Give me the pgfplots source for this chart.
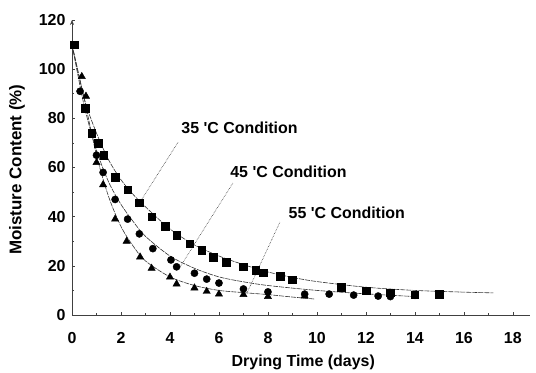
\documentclass[border=0pt]{standalone}
\usepackage{pgfplots}
\pgfplotsset{compat=1.18}
\usepackage{fontspec}
\setmainfont{Liberation Sans}
\usetikzlibrary{arrows.meta}

\begin{document}
\begin{tikzpicture}
\useasboundingbox (-72bp,-58bp) rectangle (464bp,315bp);
\begin{axis}[
  at={(0,0)}, anchor=south west,
  scale only axis, width=458bp, height=295bp,
  xmin=0, xmax=18.7, ymin=0, ymax=120,
  clip=false,
  axis x line*=bottom, axis y line*=left,
  axis line style={black!75, line width=0.6pt},
  y axis line style={-{Stealth[length=5bp,width=4bp]}},
  xtick={0,2,...,18}, ytick={0,20,...,120},
  minor x tick num=1, minor y tick num=1,
  tick align=inside, major tick length=3bp, minor tick length=2bp,
  tick style={black!75, line width=0.5pt},
  /pgf/number format/assume math mode=true,
  ticklabel style={font=\bfseries\fontsize{16}{18}\selectfont},
  xticklabel style={yshift=-14bp},
  yticklabel style={xshift=-3bp},
  every axis x label/.style={at={(axis description cs:0.505,0)}, anchor=center, yshift=-47bp, font=\bfseries\fontsize{16}{18}\selectfont},
  every axis y label/.style={at={(axis description cs:-0.12,0.493)}, rotate=90, anchor=center, font=\bfseries\fontsize{17}{19}\selectfont},
  xlabel={Drying Time (days)},
  ylabel={Moisture Content (\%)},
]
% fitted curves
\addplot[black!80, line width=0.6pt, smooth, dash pattern=on 5bp off 1bp] coordinates {
(0,110) (0.5,88) (1,74) (1.5,63) (2,55) (2.5,49) (3,44) (4,35) (5,28.5) (6,24) (7,20.5) (8,17.5) (9,15.3) (10,13.6) (12,11.3) (14,10) (16,9.3) (17.2,9)};
\addplot[black!80, line width=0.6pt, smooth, dash pattern=on 5bp off 1bp] coordinates {
(0,110) (0.5,85) (1,67) (1.5,54) (2,45) (2.5,38) (3,32) (4,24) (5,19) (6,15.5) (7,13.5) (8,12) (10,10) (12,8.6) (14,7.5)};
\addplot[black!80, line width=0.6pt, smooth, dash pattern=on 5bp off 1bp] coordinates {
(0,110) (0.5,88) (1,65) (1.5,48) (2,36) (2.5,28) (3,22) (4,15.5) (5,12) (6,10) (7,9.1) (8,8.3) (9,7.3) (9.9,6.5)};
% 35 C squares
\addplot[only marks, mark=square*, mark size=3.8bp, black] coordinates {
(0.1,110) (0.53,84) (0.8,74) (1.06,70) (1.3,65) (1.76,56) (2.27,51) (2.75,45.6) (3.25,40) (3.8,36) (4.27,32.5) (4.8,29) (5.3,26.4) (5.76,23.6) (6.3,21.5) (7.0,19.6) (7.5,18.3) (7.8,17.2) (8.5,15.9) (9.0,14.4) (11.0,11.2) (12.0,9.9) (13.0,9.0) (14.0,8.3) (15.0,8.4)};
% 45 C circles
\addplot[only marks, mark=*, mark size=3.6bp, black] coordinates {
(0.33,91) (1.0,65) (1.27,58) (1.76,47) (2.27,39) (2.75,33) (3.3,27) (4.04,22.4) (4.27,19.6) (5.0,17) (5.5,14.6) (6.0,13) (7.0,10.6) (8.0,9.4) (9.5,8.5) (10.5,8.5) (11.5,8.1) (12.5,7.7) (13.0,7.5) (14.0,8.0)};
% 55 C triangles
\addplot[only marks, mark=triangle*, mark size=4.2bp, black] coordinates {
(0.4,97) (0.57,89) (1.0,62) (1.27,53) (1.76,39) (2.23,30) (2.78,23.6) (3.25,19) (4.0,15.4) (4.27,12.6) (5.0,11) (5.5,9.6) (6.0,8.5) (7.0,8.3) (8.0,7.5) (9.5,7.7)};
% leaders
\draw[black!80, densely dotted, line width=0.6pt] (axis cs:2.65,43.9) -- (axis cs:4.33,70.3);
\draw[black!80, densely dotted, line width=0.6pt] (axis cs:4.41,19.5) -- (axis cs:6.57,53.7);
\draw[black!80, densely dotted, line width=0.6pt] (axis cs:7.14,8.9) -- (axis cs:8.49,37.8);
% labels
\node[font=\bfseries\fontsize{16}{18}\selectfont] at (axis cs:6.84,76) {35 \textquotesingle C Condition};
\node[font=\bfseries\fontsize{16}{18}\selectfont] at (axis cs:8.84,58.1) {45 \textquotesingle C Condition};
\node[font=\bfseries\fontsize{16}{18}\selectfont] at (axis cs:11.22,41.5) {55 \textquotesingle C Condition};
\end{axis}
\end{tikzpicture}
\end{document}
